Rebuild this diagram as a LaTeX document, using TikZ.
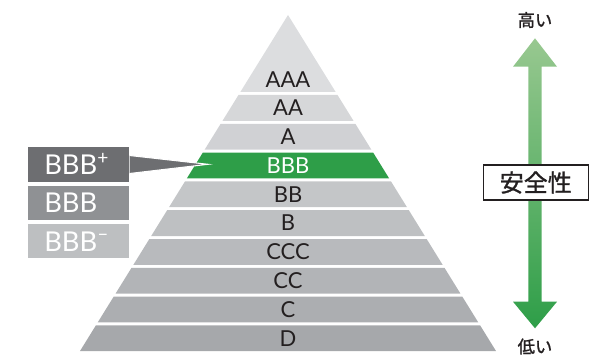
\documentclass[tikz,border=0pt]{standalone}
\usepackage{fontspec}
\setmainfont{Lato}
\newfontfamily\jpfont[FakeBold=1.2]{Noto Sans CJK JP}
\usetikzlibrary{positioning}

\definecolor{pyrtop}{RGB}{220,221,223}
\definecolor{pyrbot}{RGB}{166,168,171}
\definecolor{ink}{RGB}{35,31,32}
\definecolor{hotgreen}{RGB}{46,158,72}
\definecolor{palegreen}{RGB}{152,200,144}
\definecolor{plusgrey}{RGB}{109,110,113}
\definecolor{flatgrey}{RGB}{143,145,148}
\definecolor{minusgrey}{RGB}{189,191,193}

\begin{document}
\begin{tikzpicture}[
  x=0.75pt, y=-0.75pt,
  grade/.style={font=\fontsize{16.5}{18}\selectfont, inner sep=0pt},
  band/.style={fill=pyrbot!#1!pyrtop, text=ink},
  hot/.style={fill=hotgreen, text=white},
  notch/.style={minimum width=75.75pt, minimum height=25.8pt, text width=51.75pt,
    inner xsep=12pt, inner ysep=0pt, align=left, text=white,
    text height=15pt, text depth=0pt, font=\fontsize{20.5}{22}\selectfont},
  jp/.style={font=\jpfont\fontsize{#1}{#1}\selectfont, text=ink, inner sep=0pt}
]
\useasboundingbox (0,0) rectangle (589,356);

% pyramid: tip, then the grade bands
\fill[band=0] (288,15) -- (288+0.619*77,92) -- (288-0.619*77,92) -- cycle;
\node[grade, text=ink] (r-AAA) at (288,79.5) {AAA};

\foreach \lbl/\kind [count=\i] in {AA/band,A/band,BBB/hot,BB/band,B/band,CCC/band,CC/band,C/band,D/band}{
  \pgfmathsetmacro\ytop{95+(\i-1)*28.8}
  \pgfmathsetmacro\ybot{\ytop+25.8}
  \pgfmathsetmacro\wtop{0.619*(\ytop-15)}
  \pgfmathsetmacro\wbot{0.619*(\ybot-15)}
  \pgfmathtruncatemacro\pct{\i*100/9}
  \fill[\kind=\pct] (288-\wtop,\ytop) -- (288+\wtop,\ytop) -- (288+\wbot,\ybot) -- (288-\wbot,\ybot) -- cycle;
  \node[grade, \kind=\pct, fill=none] (r-\lbl) at (288,\ytop+12.9) {\lbl};
}

% notches of BBB
\node[notch, fill=plusgrey] (plus) at (78.8,164.5) {BBB\textsuperscript{+}};
\node[notch, fill=flatgrey, below=2.5pt of plus] (flat) {BBB};
\node[notch, fill=minusgrey, below=2.5pt of flat] (minus) {BBB\textsuperscript{–}};

\coordinate (tip) at (208,164.3);
\fill[plusgrey] ([yshift=6.75pt]plus.east) -- (tip) -- ([yshift=-6.75pt]plus.east) -- cycle;
\draw[white, line width=0.8pt] ([yshift=6.75pt]plus.east) -- (tip) -- ([yshift=-6.75pt]plus.east);

% safety arrow
\coordinate (hi) at (535,38.3);
\coordinate (lo) at (535,328.3);
\shade[top color=palegreen, bottom color=hotgreen]
  (hi) -- ++(22,28.4) -- ++(-15.3,0) -- ++(0,235) -- ++(15.3,0)
  -- (lo) -- ++(-22,-26.6) -- ++(15.3,0) -- ++(0,-235) -- ++(-15.3,0) -- cycle;

\node[jp=18, draw=ink, line width=1.1pt, fill=white, minimum width=78.75pt, minimum height=26.25pt] (safety) at (535.8,182.5) {安全性};
\node[jp=13] (high) at (535,20) {高い};
\node[jp=13] (low) at (535,346.5) {低い};
\end{tikzpicture}
\end{document}
